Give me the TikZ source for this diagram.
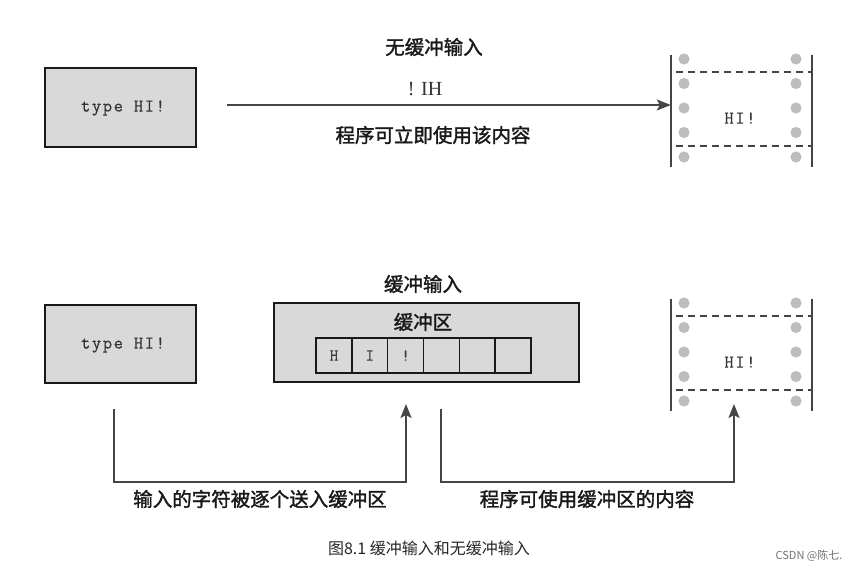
\documentclass[tikz,border=0pt]{standalone}
\usepackage{fontspec}
\setmainfont{Liberation Serif}
\newfontfamily\cjk{Noto Sans CJK SC}
\newfontfamily\cjkb{Noto Sans CJK SC}[FakeBold=1.6]
\newfontfamily\monoA{Latin Modern Mono}[LetterSpace=9,FakeBold=0.5]
\usetikzlibrary{arrows.meta,positioning}
\definecolor{boxgray}{HTML}{D9D9D9}
\definecolor{dotgray}{HTML}{BDBDBD}
\definecolor{linegray}{HTML}{454545}
\begin{document}
\begin{tikzpicture}[x=1pt,y=-1pt,
  gbox/.style={draw=black!90, line width=1.8pt, fill=boxgray, inner sep=0pt},
  cell/.style={draw=black!90, line width=1.5pt, fill=boxgray, minimum width=35.8, minimum height=35, inner sep=0pt, outer sep=0pt, font=\monoA\fontsize{17}{18}\selectfont, text=black!75},
  mtxt/.style={font=\monoA\fontsize{18}{20}\selectfont, text=black!80, inner sep=0pt},
  lbl/.style={font=\cjkb\fontsize{19.5}{21}\selectfont, text=black!90, inner sep=0pt},
  conn/.style={draw=linegray, line width=1.5pt},
  tip/.style={-{Stealth[length=14pt,width=11pt,inset=3pt]}},
  filmline/.style={draw=linegray, line width=2pt},
  filmdash/.style={draw=linegray, line width=1.5pt, dash pattern=on 7pt off 5pt},
  filmdot/.style={fill=dotgray},
  filmbox/.style={minimum width=141, minimum height=112, inner sep=0pt}
]
\fill[white] (0,0) rectangle (862,572);
\useasboundingbox (0,0) rectangle (862,572);

% ---------- top: unbuffered ----------
\node[lbl] (t1) at (434,47) {无缓冲输入};
\node[font=\fontsize{20}{22}\selectfont, text=black!80, inner sep=0pt] (ih) at (425,89) {! IH};
\node[lbl] (t2) at (433,135) {程序可立即使用该内容};
\node[gbox, minimum width=151, minimum height=79] (typeA) at (120.5,107.5) {};
\node[mtxt] (typeAt) at (123,108) {type HI!};

% ---------- bottom: buffered ----------
\node[lbl] (t3) at (423,284) {缓冲输入};
\node[gbox, minimum width=151, minimum height=78] (typeB) at (120.5,344) {};
\node[mtxt] (typeBt) at (123,345) {type HI!};
\node[gbox, minimum width=305, minimum height=79] (buf) at (426.5,342.5) {};
\node[lbl] (t4) at (423,322) {缓冲区};
\node[cell] (c1) at (334,355.5) {H};
\node[cell, right=0pt of c1] (c2) {I};
\node[cell, right=0pt of c2] (c3) {!};
\node[cell, right=0pt of c3] (c4) {};
\node[cell, right=0pt of c4] (c5) {};
\node[cell, right=0pt of c5] (c6) {};

% ---------- film strips ----------
\foreach \n/\t in {fA/55, fB/299}{
  \node[filmbox] (\n) at (741.5,\t+56) {};
  \foreach \dy in {4,28.5,53,77.5,102}{
    \fill[filmdot] (684,\t+\dy) circle (5.6);
    \fill[filmdot] (796,\t+\dy) circle (5.6);
  }
  \draw[filmdash] (676,\t+17) -- (\n.east |- 0,\t+17);
  \draw[filmdash] (676,\t+91) -- (\n.east |- 0,\t+91);
  \draw[filmline] (\n.north west) -- (\n.south west);
  \draw[filmline] (\n.north east) -- (\n.south east);
  \node[mtxt] (\n t) at (740,\t+63) {HI!};
}

% ---------- connectors ----------
\coordinate (a0) at (227,105);
\draw[conn,tip] (a0) -- (a0 -| fA.west);

\coordinate (b0) at (114,409);
\coordinate (b1) at (114,482);
\coordinate (b2) at (406,482);
\coordinate (b3) at (406,404);
\draw[conn,tip] (b0) -- (b1) -- (b2) -- (b3);

\coordinate (d0) at (441,409);
\coordinate (d1) at (441,482);
\coordinate (d2) at (734,482);
\coordinate (d3) at (734,404);
\draw[conn,tip] (d0) -- (d1) -- (d2) -- (d3);

\node[lbl] (t5) at (260,499) {输入的字符被逐个送入缓冲区};
\node[lbl] (t6) at (587,499) {程序可使用缓冲区的内容};

\node[font=\cjk\fontsize{16}{18}\selectfont, text=black!85, inner sep=0pt] (cap) at (429,548) {图8.1 缓冲输入和无缓冲输入};
\node[font=\cjk\fontsize{11}{12}\selectfont, text=black!55, inner sep=0pt] (wm) at (809,556) {CSDN @陈七.};
\end{tikzpicture}
\end{document}
